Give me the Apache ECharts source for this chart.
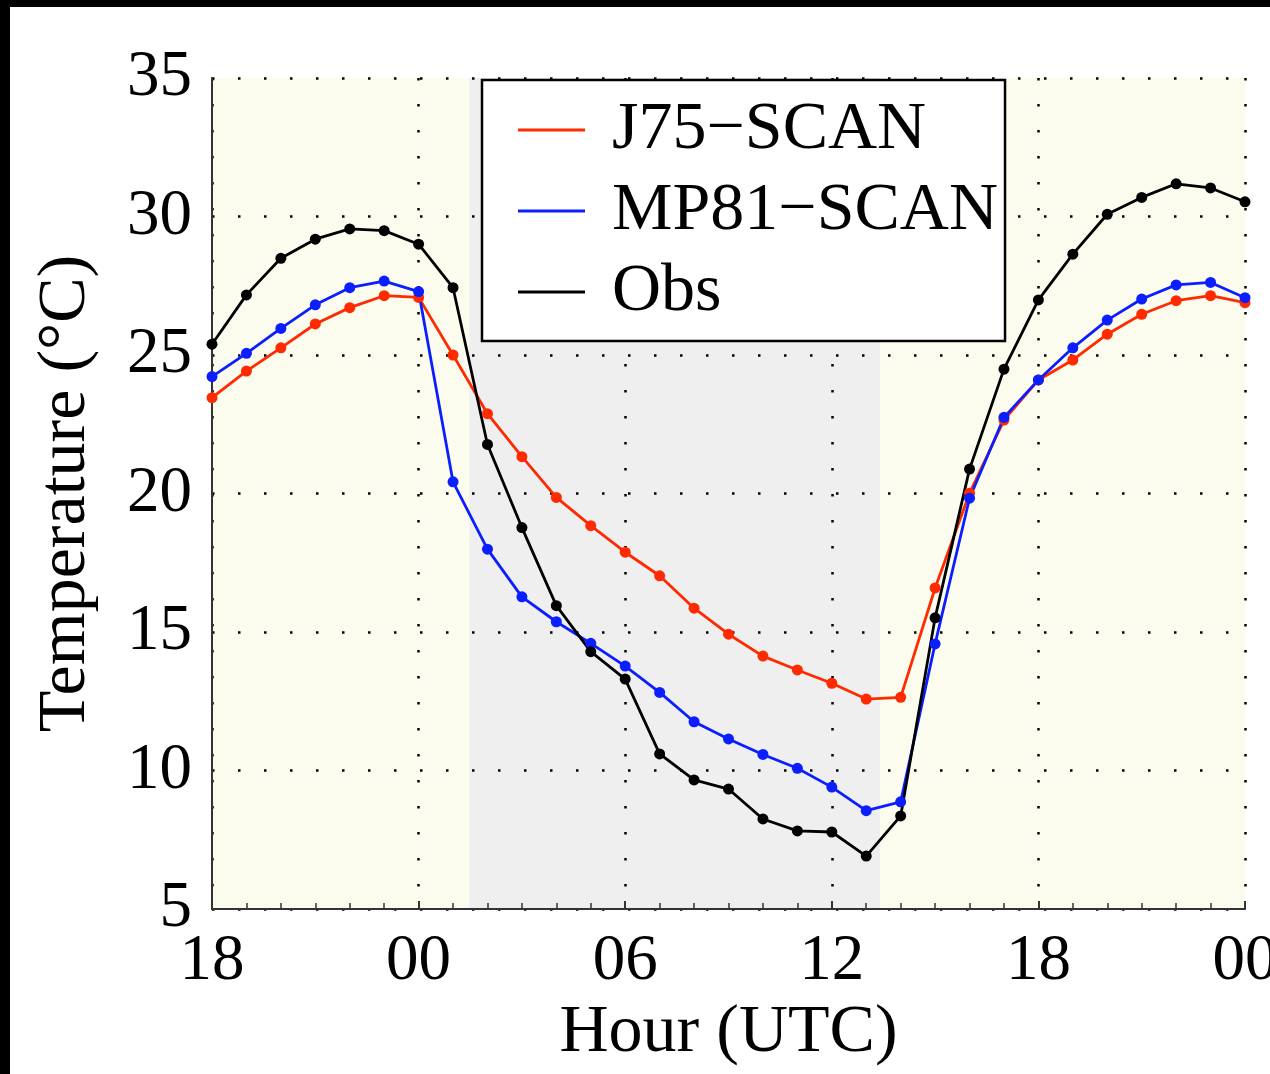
<!DOCTYPE html>
<html>
<head>
<meta charset="utf-8">
<script src="https://cdn.jsdelivr.net/npm/echarts@6/dist/echarts.min.js"></script>
<style>
  html, body { margin: 0; padding: 0; background: #fff; }
  #chart { width: 1270px; height: 1074px; }
</style>
</head>
<body>
<div id="chart"></div>
<script>
// Hours since 18 UTC of day 1 (18 .. 48)
const hours = [18,19,20,21,22,23,24,25,26,27,28,29,30,31,32,33,34,35,36,37,38,39,40,41,42,43,44,45,46,47,48];
const xTickLabels = ['18', '00', '06', '12', '18', '00'];
const seriesNames = ['J75\u2212SCAN', 'MP81\u2212SCAN', 'Obs'];

const j75 = [23.46,24.42,25.26,26.12,26.71,27.14,27.08,25.0,22.88,21.33,19.86,18.84,17.88,17.03,15.86,14.92,14.13,13.63,13.15,12.58,12.64,16.59,20.01,22.65,24.1,24.82,25.75,26.47,26.96,27.14,26.89];
const mp81 = [24.22,25.06,25.96,26.81,27.43,27.67,27.29,20.42,17.99,16.27,15.37,14.59,13.77,12.82,11.76,11.14,10.58,10.08,9.4,8.55,8.87,14.57,19.83,22.75,24.1,25.26,26.26,27.02,27.53,27.62,27.07];
const obs = [25.39,27.17,28.49,29.18,29.55,29.49,29.0,27.43,21.77,18.77,15.95,14.29,13.3,10.6,9.66,9.33,8.25,7.82,7.78,6.91,8.36,15.51,20.88,24.49,26.99,28.64,30.08,30.69,31.18,31.03,30.53];

// Day / night shading bounds (hours)
const dayBounds1 = [18, 25.47];
const nightBounds = [25.47, 37.4];
const dayBounds2 = [37.4, 48];

const FONT = '"Liberation Serif", "Times New Roman", serif';
const chart = echarts.init(document.getElementById('chart'), null, { renderer: 'canvas', width: 1270, height: 1074 });

function pairs(vals) { return hours.map((h, i) => [h, vals[i]]); }

const dotted = { color: '#000', width: 2.5, type: [2.5, 23.5] };

const baseSeries = (name, vals, color) => ({
  name: name,
  type: 'line',
  data: pairs(vals),
  symbol: 'circle',
  symbolSize: 11,
  z: 3,
  lineStyle: { color: color, width: 2.8 },
  itemStyle: { color: color },
  animation: false
});

const s0 = baseSeries(seriesNames[0], j75, '#ff2a00');
s0.markArea = {
  silent: true,
  z: 1,
  itemStyle: { borderWidth: 0 },
  data: [
    [{ xAxis: dayBounds1[0], itemStyle: { color: '#fcfcee' } }, { xAxis: dayBounds1[1] }],
    [{ xAxis: nightBounds[0], itemStyle: { color: '#efefef' } }, { xAxis: nightBounds[1] }],
    [{ xAxis: dayBounds2[0], itemStyle: { color: '#fcfcee' } }, { xAxis: dayBounds2[1] }]
  ]
};

const option = {
  animation: false,
  backgroundColor: '#fff',
  textStyle: { fontFamily: FONT },
  graphic: [
    { type: 'rect', left: 0, top: 0, z: 100, shape: { width: 1270, height: 7 }, style: { fill: '#000' } },
    { type: 'rect', left: 0, top: 0, z: 100, shape: { width: 10, height: 1074 }, style: { fill: '#000' } }
  ],
  grid: { left: 212, top: 78, right: 25, bottom: 165, containLabel: false, outerBoundsMode: 'none' },
  legend: {
    orient: 'vertical',
    left: 482,
    top: 80,
    padding: [16, 7, 15, 36],
    itemGap: 13,
    itemWidth: 67,
    itemHeight: 3,
    icon: 'rect',
    backgroundColor: '#fff',
    borderColor: '#000',
    borderWidth: 2.5,
    textStyle: { fontFamily: FONT, fontSize: 68, lineHeight: 68, color: '#000', padding: [0, 0, 0, 22] },
    data: seriesNames
  },
  xAxis: {
    type: 'value',
    min: 18,
    max: 48,
    interval: 6,
    z: 2,
    name: 'Hour (UTC)',
    nameLocation: 'middle',
    nameGap: 88,
    nameTextStyle: { fontFamily: FONT, fontSize: 68, color: '#000' },
    axisLine: { show: true, onZero: false, lineStyle: { color: '#333', width: 2 } },
    axisTick: { show: true, inside: true, length: 8, lineStyle: { color: '#333', width: 2 } },
    minorTick: { show: true, splitNumber: 6, length: 6, lineStyle: { color: '#333', width: 1.5 } },
    axisLabel: {
      fontFamily: FONT, fontSize: 65, color: '#000', margin: 20,
      formatter: v => xTickLabels[Math.round((v - 18) / 6)]
    },
    splitLine: { show: true, lineStyle: dotted }
  },
  yAxis: {
    type: 'value',
    min: 5,
    max: 35,
    interval: 5,
    z: 2,
    name: 'Temperature (\u00B0C)',
    nameLocation: 'middle',
    nameGap: 112,
    nameTextStyle: { fontFamily: FONT, fontSize: 68, color: '#000' },
    axisLine: { show: true, lineStyle: { color: '#333', width: 2 } },
    axisTick: { show: false },
    axisLabel: { fontFamily: FONT, fontSize: 65, color: '#000', margin: 20 },
    splitLine: { show: true, lineStyle: dotted }
  },
  series: [
    s0,
    baseSeries(seriesNames[1], mp81, '#0a1eff'),
    baseSeries(seriesNames[2], obs, '#000000')
  ]
};

chart.setOption(option);
</script>
</body>
</html>
